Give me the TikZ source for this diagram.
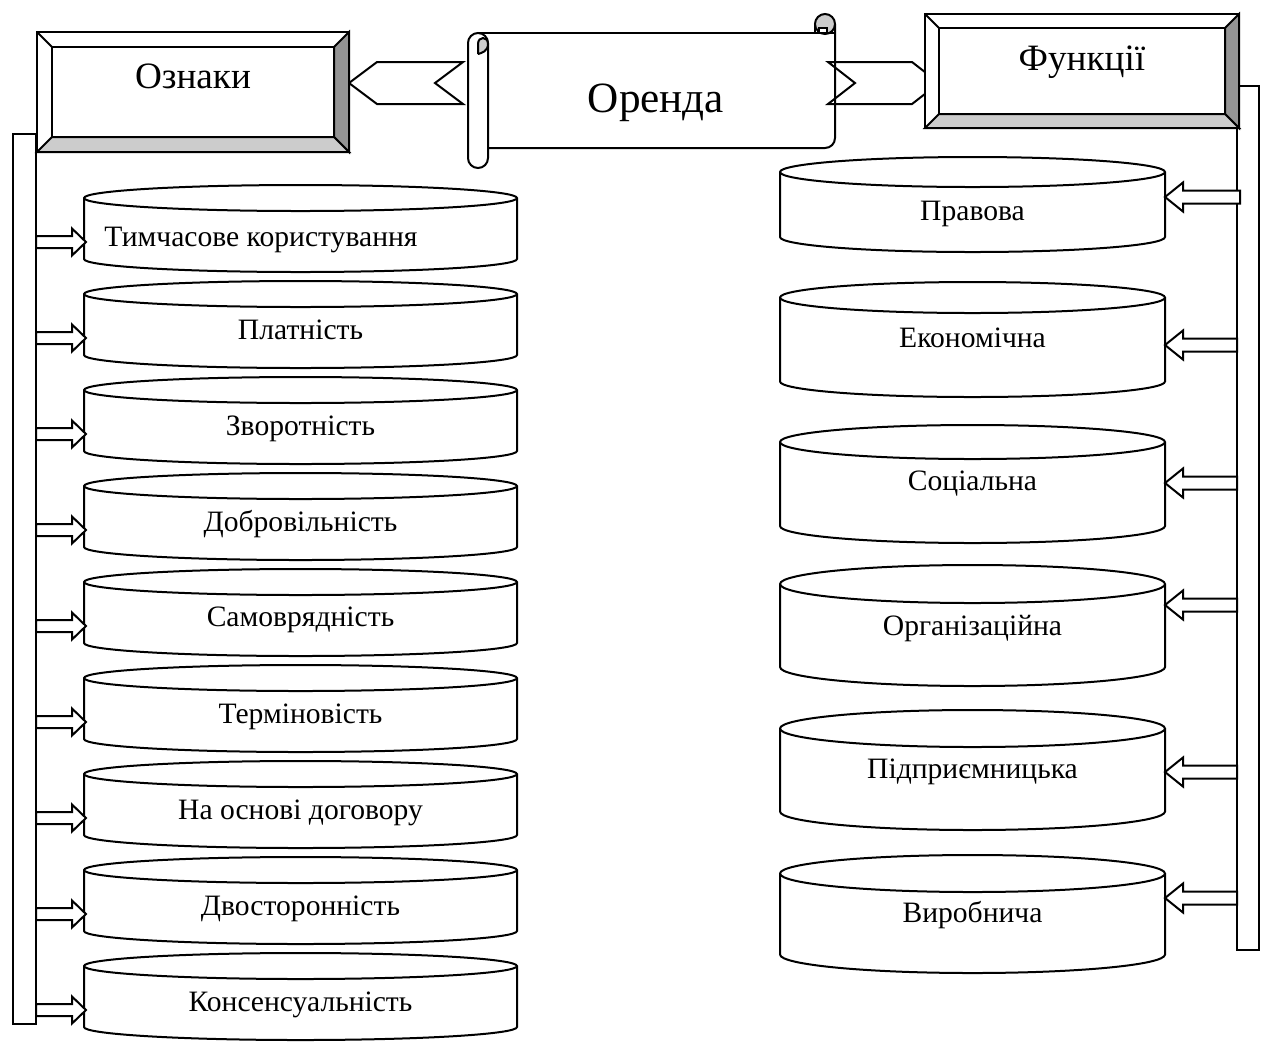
\documentclass[tikz,border=0pt]{standalone}
\usepackage{fontspec}
\setmainfont{Liberation Serif}
\usetikzlibrary{calc}
\tikzset{
  ln/.style={draw=black, line width=1pt},
  wfill/.style={ln, fill=white},
  barbox/.style={ln, fill=white, inner sep=0pt, outer sep=0pt, rectangle},
  framebox/.style={ln, fill=white, inner sep=0pt, outer sep=0pt, rectangle},
  bevelR/.style={ln, fill=black!42},
  bevelB/.style={ln, fill=black!20},
  curl/.style={ln, fill=black!20},
  cyltext/.style={font=\fontsize{14.8}{16}\selectfont, inner sep=0pt, anchor=base},
  headtext/.style={font=\fontsize{18.6}{20}\selectfont, inner sep=0pt, anchor=base},
  titletext/.style={font=\fontsize{21.6}{24}\selectfont, inner sep=0pt, anchor=base},
  blockarrow/.style={ln, fill=white, line join=miter},
  chevron/.style={ln, line join=miter},
}
% name, cx, rx, top, height, ry
\newcommand\CylShape[6]{%
  \pgfmathsetmacro\cxl{#2-#3}\pgfmathsetmacro\cxr{#2+#3}%
  \pgfmathsetmacro\kx{0.5523*#3}\pgfmathsetmacro\ky{0.5523*#6}%
  \pgfmathsetmacro\ya{#4+#6}\pgfmathsetmacro\yb{#4+#5-#6}%
  \draw[wfill] (\cxl,\ya) -- (\cxl,\yb)
     .. controls (\cxl,\yb+\ky) and (#2-\kx,\yb+#6) .. (#2,\yb+#6)
     .. controls (#2+\kx,\yb+#6) and (\cxr,\yb+\ky) .. (\cxr,\yb)
     -- (\cxr,\ya)
     .. controls (\cxr,\ya-\ky) and (#2+\kx,\ya-#6) .. (#2,\ya-#6)
     .. controls (#2-\kx,\ya-#6) and (\cxl,\ya-\ky) .. cycle;
  \draw[ln] (\cxl,\ya)
     .. controls (\cxl,\ya+\ky) and (#2-\kx,\ya+#6) .. (#2,\ya+#6)
     .. controls (#2+\kx,\ya+#6) and (\cxr,\ya+\ky) .. (\cxr,\ya);
  \node[inner sep=0pt, outer sep=0pt, minimum width={2*#3*0.5pt}, minimum height={#5*0.5pt}] (#1) at (#2,{#4+#5/2}) {};
}
% node name, bevel size
\newcommand\BevelFrame[2]{%
  \draw[bevelR] (#1.north east) -- (#1.south east) -- ($(#1.south east)+(-#2,#2)$) -- ($(#1.north east)+(-#2,-#2)$) -- cycle;
  \draw[bevelB] (#1.south west) -- (#1.south east) -- ($(#1.south east)+(-#2,#2)$) -- ($(#1.south west)+(#2,#2)$) -- cycle;
  \draw[ln] (#1.north west) -- ($(#1.north west)+(#2,-#2)$);
  \draw[ln] ($(#1.north west)+(#2,-#2)$) rectangle ($(#1.south east)+(-#2,#2)$);
}
\begin{document}
\begin{tikzpicture}[x=0.5pt,y=-0.5pt]
\useasboundingbox (0,0) rectangle (1268,1041);

% side bars
\node[barbox, minimum width=11.5pt, minimum height=445pt] (lbar) at (24.5,579) {};
\node[barbox, minimum width=11pt, minimum height=432pt] (rbar) at (1248,518) {};

% left cylinders
\foreach \nm/\tp/\bl/\tx/\txt in {
  l1/185/246/261/{Тимчасове користування},
  l2/281/339/300.5/{Платність},
  l3/377/435/300.5/{Зворотність},
  l4/473/531/300.5/{Добровільність},
  l5/569/626/300.5/{Самоврядність},
  l6/665/723/300.5/{Терміновість},
  l7/761/819/300.5/{На основі договору},
  l8/857/915/300.5/{Двосторонність},
  l9/953/1011/300.5/{Консенсуальність}}{
  \CylShape{\nm}{300.5}{216.5}{\tp}{87}{13}
  \node[cyltext] (\nm-t) at (\tx,\bl) {\txt};
  \pgfmathsetmacro\ay{\tp+57}
  \coordinate (ay) at (0,\ay);
  \coordinate (as) at (lbar.east |- ay);
  \coordinate (ae) at (\nm.west |- ay);
  \draw[blockarrow] let \p1=(as), \p2=(ae) in
    ({\x1},{\y1+3pt}) -- ({\x2-6pt},{\y1+3pt}) -- ({\x2-6pt},{\y1+6.75pt})
    -- ({\x2+1pt},\y1) -- ({\x2-6pt},{\y1-6.75pt}) -- ({\x2-6pt},{\y1-3pt})
    -- ({\x1},{\y1-3pt}) -- cycle;
}

% right cylinders
\foreach \nm/\tp/\hh/\ry/\bl/\ay/\ex/\txt in {
  r1/157/95/15/220/197/1.5pt/{Правова},
  r2/282/115/15.5/347/345/0pt/{Економічна},
  r3/425/118/17/490/483/0pt/{Соціальна},
  r4/565/121/19/635/605/0pt/{Організаційна},
  r5/710/120/18.5/778/772/0pt/{Підприємницька},
  r6/855/118/18.5/922/898/0pt/{Виробнича}}{
  \CylShape{\nm}{972.5}{192.5}{\tp}{\hh}{\ry}
  \node[cyltext] (\nm-t) at (972.5,\bl) {\txt};
  \coordinate (ay) at (0,\ay);
  \coordinate (as) at (rbar.west |- ay);
  \coordinate (ae) at (\nm.east |- ay);
  \draw[blockarrow] let \p1=(as), \p2=(ae) in
    ({\x1+\ex},{\y1+3.25pt}) -- ({\x2+9pt},{\y1+3.25pt}) -- ({\x2+9pt},{\y1+7.25pt})
    -- (\x2,\y1) -- ({\x2+9pt},{\y1-7.25pt}) -- ({\x2+9pt},{\y1-3.25pt})
    -- ({\x1+\ex},{\y1-3.25pt}) -- cycle;
}

% frames (nodes first, for anchors)
\node[framebox, minimum width=156pt, minimum height=60pt] (oznaky) at (193,92) {};
\node[framebox, minimum width=157pt, minimum height=57pt] (funkcii) at (1082,71) {};

% left chevron
\coordinate (lt) at (0,83);
\draw[chevron, fill=white] (oznaky.east |- lt) -- (377,62) -- (463,62) -- (435,83) -- (463,104) -- (377,104) -- cycle;

% scroll
\fill[white] (478,33) -- (815,33) -- (815,24) -- (835,24) -- (835,148) -- (488,148) -- cycle;
\draw[ln] (478,33) -- (815,33) -- (815,24);
\draw[ln, rounded corners=5pt] (835,24) -- (835,148) -- (488,148);
\draw[wfill, rounded corners=5pt] (468,33) rectangle (488,168);
\draw[curl] (478,54) -- (478,44) .. controls (478,36) and (488,36) .. (488,44)
   .. controls (488,51) and (482,53) .. (478,54);
\draw[curl] (825,24) circle [radius=5pt];
\draw[ln, fill=white] (819,33) -- (819,28) -- (827,28) -- (827,33);
\draw[ln] (815,33) -- (835,33);
\node[titletext] (orenda) at (656,112) {Оренда};

% right chevron
\draw[chevron] (828,62) -- (912,62) -- (939,83) -- (912,104) -- (828,104) -- (855,83) -- cycle;

% frames redrawn on top with bevels
\node[framebox, minimum width=156pt, minimum height=60pt] at (oznaky) {};
\BevelFrame{oznaky}{7.5pt}
\node[headtext] (oznaky-t) at (193,88) {Ознаки};
\node[framebox, minimum width=157pt, minimum height=57pt] at (funkcii) {};
\BevelFrame{funkcii}{7pt}
\node[headtext] (funkcii-t) at (1082,70) {Функції};
\end{tikzpicture}
\end{document}
